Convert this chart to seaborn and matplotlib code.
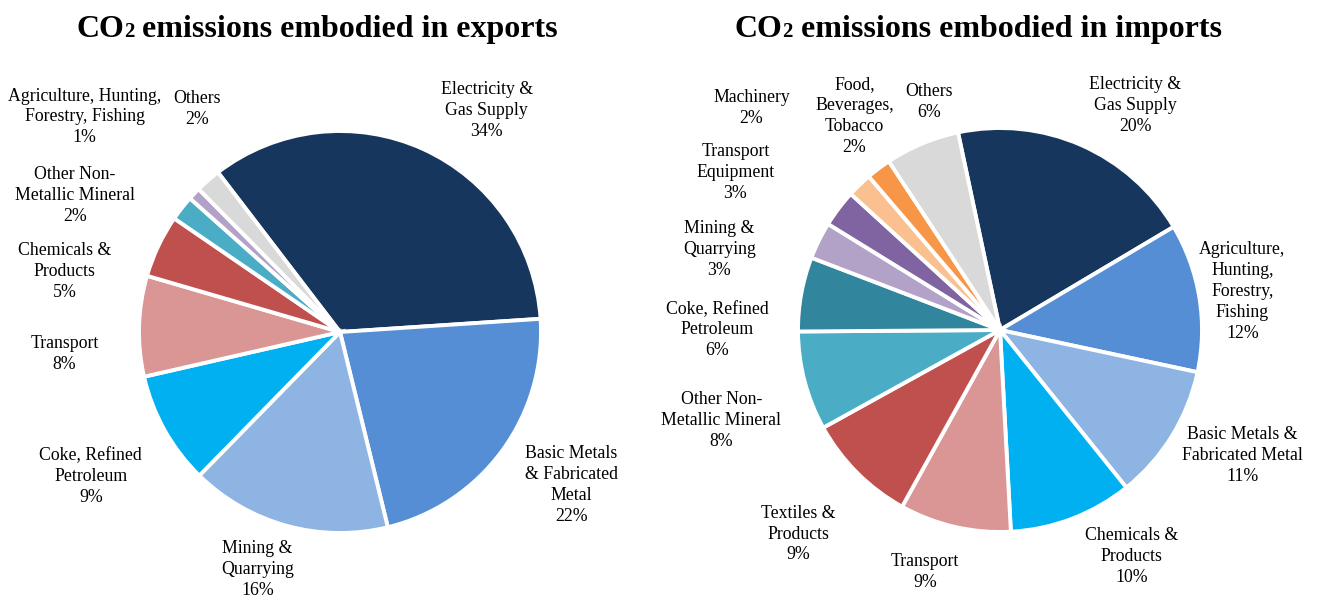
import matplotlib
matplotlib.use("Agg")
import matplotlib.pyplot as plt
import seaborn as sns

# exports
exp_labels = ["Electricity &\nGas Supply", "Basic Metals\n& Fabricated\nMetal", "Mining &\nQuarrying",
              "Coke, Refined\nPetroleum", "Transport", "Chemicals &\nProducts",
              "Other Non-\nMetallic Mineral", "Agriculture, Hunting,\nForestry, Fishing", "Others"]
exp_values = [34, 22, 16, 9, 8, 5, 2, 1, 2]
exp_colors = ["#17365D", "#558ED5", "#8EB4E3", "#00B0F0", "#D99694", "#C0504D",
              "#4BACC6", "#B3A2C7", "#D9D9D9"]

# imports
imp_labels = ["Electricity &\nGas Supply", "Agriculture,\nHunting,\nForestry,\nFishing",
              "Basic Metals &\nFabricated Metal", "Chemicals &\nProducts", "Transport",
              "Textiles &\nProducts", "Other Non-\nMetallic Mineral", "Coke, Refined\nPetroleum",
              "Mining &\nQuarrying", "Transport\nEquipment", "Machinery",
              "Food,\nBeverages,\nTobacco", "Others"]
imp_values = [20, 12, 11, 10, 9, 9, 8, 6, 3, 3, 2, 2, 6]
imp_colors = ["#17365D", "#558ED5", "#8EB4E3", "#00B0F0", "#D99694", "#C0504D",
              "#4BACC6", "#31859C", "#B3A2C7", "#8064A2", "#FAC090", "#F79646", "#D9D9D9"]

# label positions (in pie-radius units)
exp_pos = [(0.73, 1.10), (1.15, -0.76), (-0.41, -1.18), (-1.24, -0.72), (-1.37, -0.11),
           (-1.37, 0.30), (-1.32, 0.68), (-1.27, 1.07), (-0.71, 1.11)]
imp_pos = [(0.67, 1.11), (1.20, 0.19), (1.20, -0.62), (0.65, -1.12), (-0.37, -1.20),
           (-1.00, -1.01), (-1.38, -0.45), (-1.40, 0.00), (-1.39, 0.40), (-1.31, 0.78),
           (-1.23, 1.10), (-0.72, 1.06), (-0.35, 1.13)]

sns.set_theme(style="white")
plt.rcParams["font.family"] = ["Liberation Serif", "DejaVu Serif"]
plt.rcParams["text.color"] = "black"

W, H = 1319, 599
fig = plt.figure(figsize=(W / 100, H / 100), dpi=100)
renderer = fig.canvas.get_renderer()


def title(xc, rest):
    # CO + small baseline "2" + rest, centred on xc (pixels)
    y = 1 - 37 / H
    parts = [("CO", 23), ("2", 15), (rest, 23)]
    texts = [fig.text(0, y, s, fontsize=fs, fontweight="bold", va="baseline", ha="left",
                      color="black")
             for s, fs in parts]
    widths = [t.get_window_extent(renderer).width for t in texts]
    x = xc - sum(widths) / 2
    for t, w in zip(texts, widths):
        t.set_x(x / W)
        x += w


def draw(cx, cy, R, values, colors, labels, pos, start):
    ax = fig.add_axes([(cx - R) / W, (H - cy - R) / H, 2 * R / W, 2 * R / H])
    ax.pie(values, colors=colors, startangle=start, counterclock=False, radius=1,
           wedgeprops=dict(edgecolor="white", linewidth=2.8))
    ax.set_xlim(-1, 1)
    ax.set_ylim(-1, 1)
    ax.set_aspect("equal")
    ax.axis("off")
    for lab, v, (x, y) in zip(labels, values, pos):
        ax.text(x, y, f"{lab}\n{v}%", ha="center", va="center", fontsize=12.8,
                linespacing=1.3, color="black")


draw(340, 332, 201, exp_values, exp_colors, exp_labels, exp_pos, 127.4)
draw(1000, 330, 202, imp_values, imp_colors, imp_labels, imp_pos, 102)
title(317, " emissions embodied in exports")
title(978, " emissions embodied in imports")

fig.savefig("out.png", dpi=100)
